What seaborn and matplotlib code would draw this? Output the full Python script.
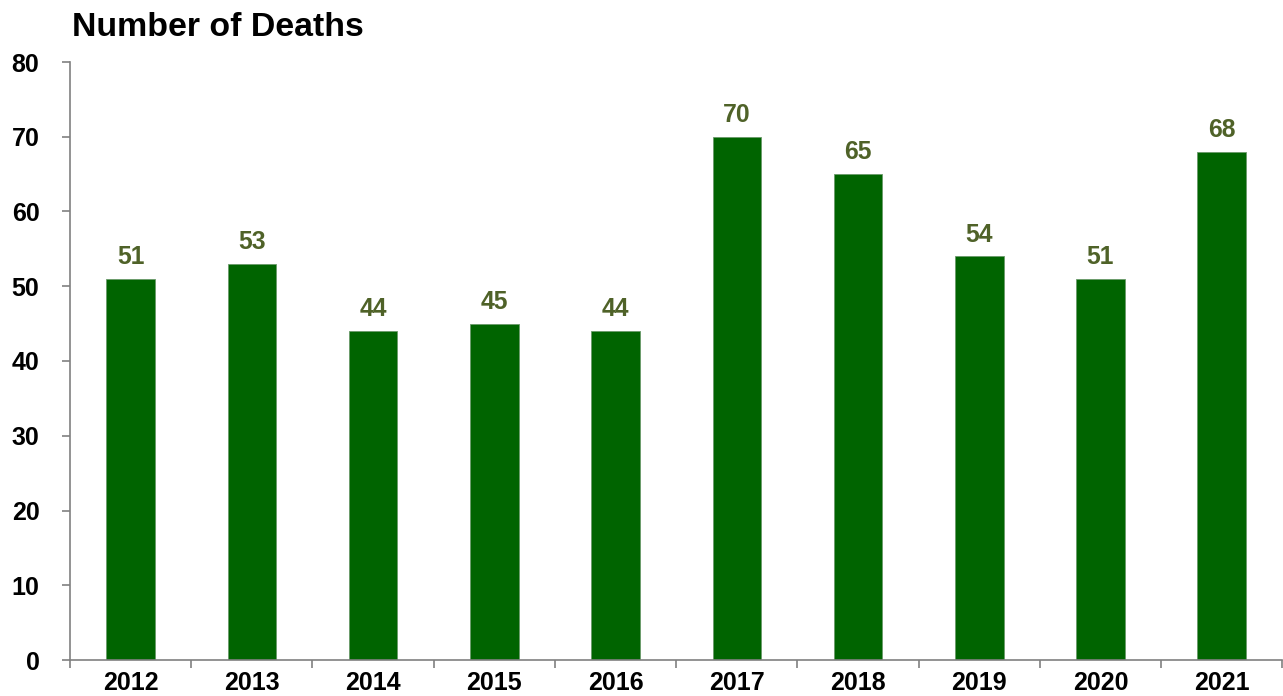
import matplotlib
matplotlib.use("Agg")
import matplotlib.pyplot as plt
import seaborn as sns
import pandas as pd
import numpy as np

years = ["2012", "2013", "2014", "2015", "2016", "2017", "2018", "2019", "2020", "2021"]
deaths = [51, 53, 44, 45, 44, 70, 65, 54, 51, 68]

sns.set_theme(style="white")
plt.rcParams['font.family'] = ['Liberation Sans', 'DejaVu Sans']

df = pd.DataFrame({"year": years, "deaths": deaths})

fig = plt.figure(figsize=(12.83, 6.96), dpi=100)
ax = fig.add_axes([70/1283, 36/696, 1 - 70/1283 - 0.0005, (660-62)/696])

sns.barplot(data=df, x="year", y="deaths", color="#006400", saturation=1,
            width=0.4, ax=ax, edgecolor="#6a9a6a", linewidth=0.6)

ax.set_ylim(0, 80)
ax.set_xlim(-0.5, len(years) - 0.5)
ax.set_yticks(range(0, 81, 10))
ax.set_xlabel("")
ax.set_ylabel("")

for i, v in enumerate(deaths):
    ax.annotate(str(v), (i, v), xytext=(0, 7), textcoords="offset points",
                ha="center", va="bottom", fontsize=17.8, fontweight="bold",
                color="#4F6228")

for s in ["top", "right"]:
    ax.spines[s].set_visible(False)
for s in ["left", "bottom"]:
    ax.spines[s].set_color("#808080")
    ax.spines[s].set_linewidth(1.2)

ax.tick_params(axis="y", which="major", left=True, length=6, width=1.2,
               color="#808080", pad=16, labelsize=18)
ax.tick_params(axis="x", which="major", bottom=False, length=0, pad=8, labelsize=18)
ax.set_xticks(np.arange(-0.5, len(years), 1.0), minor=True)
ax.tick_params(axis="x", which="minor", bottom=True, length=6, width=1.2, color="#808080")
for lab in ax.get_xticklabels() + ax.get_yticklabels():
    lab.set_fontweight("bold")
    lab.set_color("black")

fig.text(72/1283, 1 - 28/696, "Number of Deaths", fontsize=24.4, fontweight="bold",
         ha="left", va="center", color="black")

fig.savefig("out.png", dpi=100)
